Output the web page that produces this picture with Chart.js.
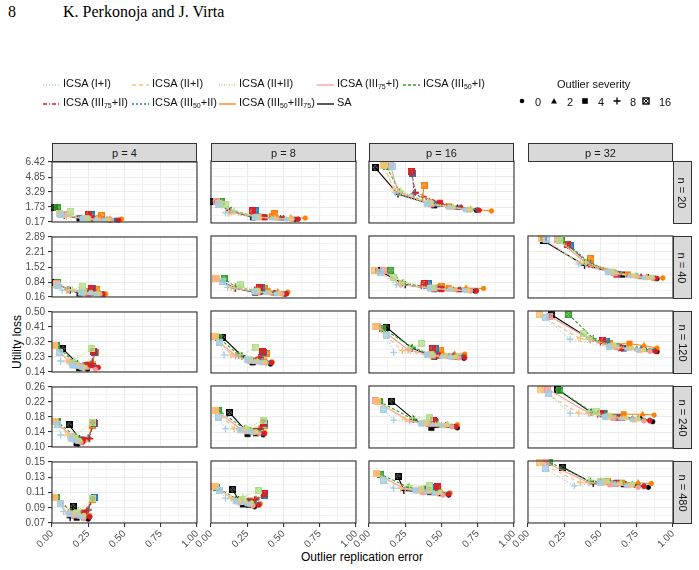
<!DOCTYPE html>
<html>
<head>
<meta charset="utf-8">
<script src="https://cdn.jsdelivr.net/npm/chart.js@4.4.1/dist/chart.umd.min.js"></script>
<style>
  body { margin: 0; background: #fff; font-family: "Liberation Sans", Arial, sans-serif; }
  #page { position: relative; width: 699px; height: 570px; overflow: hidden; }
  .abs { position: absolute; white-space: nowrap; }
  .strip { position: absolute; background: #d9d9d9; border: 1px solid #333; box-sizing: border-box;
           font-size: 11px; color: #1a1a1a; display: flex; align-items: center; justify-content: center; }
  .vtext { transform: rotate(90deg); white-space: nowrap; }
  .leg { font-size: 11px; color: #111; line-height: 12px; }
  .leg sub { font-size: 7px; vertical-align: -2px; }
  canvas { position: absolute; }
</style>
</head>
<body>
<div id="page">
  <div class="abs" style="left:8px;top:3px;font-family:'Liberation Serif',serif;font-size:16px;">8</div>
  <div class="abs" style="left:63px;top:3px;font-family:'Liberation Serif',serif;font-size:16px;">K. Perkonoja and J. Virta</div>
  <div class="abs" style="left:4px;top:342px;width:0;height:0;">
    <div style="position:absolute;transform:translate(-50%,-50%) rotate(-90deg);font-size:12px;white-space:nowrap;left:13px;">Utility loss</div>
  </div>
  <div class="abs" style="left:0;width:724px;top:550px;text-align:center;font-size:12px;">Outlier replication error</div>
</div>
<script>
// ---- data: rows of each array = methods (same order as methodNames), columns = severities
const severities = [0, 2, 4, 8, 16];
const methodNames = ['ICSA (I+I)', 'ICSA (II+I)', 'ICSA (II+II)', 'ICSA (III75+I)', 'ICSA (III50+I)',
                     'ICSA (III75+II)', 'ICSA (III50+II)', 'ICSA (III50+III75)', 'SA'];
const pLevels = [4, 8, 16, 32];
const nLevels = [20, 40, 120, 240, 480];
const errTicks = [0, 0.25, 0.5, 0.75, 1];
const lossTicksN20 = [0.17, 1.73, 3.29, 4.85, 6.42];
const lossTicksN40 = [0.16, 0.84, 1.52, 2.21, 2.89];
const lossTicksN120 = [0.14, 0.23, 0.32, 0.41, 0.50];
const lossTicksN240 = [0.10, 0.14, 0.18, 0.22, 0.26];
const lossTicksN480 = [0.07, 0.09, 0.11, 0.13, 0.15];

const errN20P4 = [[0.36,0.30,0.21,0.08,0.06],[0.38,0.31,0.22,0.10,0.05],[0.39,0.31,0.24,0.13,0.13],[0.41,0.33,0.25,0.10,0.08],[0.38,0.30,0.23,0.08,0.035],[0.46,0.38,0.27,0.24,0.25],[0.44,0.36,0.27,0.26,0.27],[0.48,0.40,0.32,0.33,0.34],[0.40,0.30,0.19,0.085,0.014]];
const lossN20P4 = [[0.37,0.42,0.50,0.80,1.00],[0.38,0.43,0.52,0.75,1.10],[0.40,0.46,0.56,0.95,1.31],[0.37,0.42,0.50,0.85,1.00],[0.40,0.45,0.50,0.90,1.71],[0.37,0.42,0.54,0.70,0.98],[0.37,0.42,0.50,0.70,0.90],[0.47,0.50,0.56,0.70,0.88],[0.37,0.45,0.54,0.87,1.71]];
const errN20P8 = [[0.52,0.42,0.30,0.10,0.05],[0.55,0.44,0.31,0.12,0.05],[0.55,0.44,0.32,0.16,0.10],[0.56,0.46,0.33,0.14,0.04],[0.56,0.46,0.32,0.14,0.075],[0.60,0.50,0.37,0.30,0.285],[0.60,0.50,0.36,0.32,0.31],[0.65,0.55,0.42,0.44,0.44],[0.58,0.48,0.29,0.13,0.02]];
const lossN20P8 = [[0.55,0.62,0.75,1.20,2.00],[0.55,0.63,0.76,1.15,2.10],[0.58,0.66,0.80,1.40,2.00],[0.54,0.62,0.75,1.30,2.30],[0.56,0.64,0.78,1.45,2.35],[0.55,0.64,0.74,1.00,1.38],[0.56,0.65,0.78,1.05,1.38],[0.67,0.70,0.85,0.95,1.08],[0.54,0.64,0.74,1.41,2.36]];
const errN20P16 = [[0.66,0.55,0.40,0.18,0.16],[0.68,0.56,0.40,0.17,0.10],[0.70,0.58,0.42,0.22,0.11],[0.70,0.58,0.43,0.20,0.145],[0.68,0.57,0.42,0.21,0.12],[0.76,0.64,0.49,0.32,0.29],[0.75,0.63,0.47,0.31,0.30],[0.845,0.70,0.55,0.37,0.38],[0.74,0.61,0.45,0.20,0.042]];
const lossN20P16 = [[1.50,1.75,2.10,3.20,5.90],[1.52,1.78,2.15,3.60,6.00],[1.55,1.80,2.20,3.40,6.20],[1.48,1.72,2.05,3.30,6.10],[1.50,1.76,2.15,3.30,5.90],[1.45,1.72,2.20,3.26,5.34],[1.50,1.75,2.10,3.10,5.20],[1.38,1.60,1.85,2.80,3.93],[1.45,1.71,1.95,3.09,5.75]];

const errN40P4 = [[0.30,0.26,0.20,0.07,0.04],[0.31,0.26,0.20,0.10,0.03],[0.32,0.27,0.22,0.14,0.21],[0.33,0.28,0.22,0.12,0.03],[0.33,0.28,0.21,0.11,0.04],[0.35,0.30,0.25,0.24,0.27],[0.35,0.30,0.26,0.25,0.28],[0.37,0.33,0.29,0.29,0.31],[0.36,0.30,0.19,0.125,0.021]];
const lossN40P4 = [[0.30,0.33,0.36,0.47,0.70],[0.30,0.33,0.38,0.45,0.75],[0.31,0.35,0.40,0.50,0.65],[0.29,0.32,0.36,0.48,0.78],[0.30,0.33,0.37,0.50,0.80],[0.29,0.31,0.32,0.40,0.56],[0.30,0.32,0.35,0.42,0.55],[0.30,0.33,0.38,0.44,0.50],[0.29,0.31,0.32,0.47,0.80]];
const errN40P8 = [[0.45,0.38,0.30,0.115,0.08],[0.47,0.39,0.31,0.14,0.04],[0.47,0.40,0.32,0.20,0.20],[0.49,0.41,0.32,0.16,0.03],[0.49,0.41,0.32,0.17,0.09],[0.52,0.44,0.33,0.30,0.335],[0.52,0.44,0.34,0.31,0.35],[0.53,0.46,0.39,0.36,0.37],[0.51,0.43,0.305,0.167,0.035]];
const lossN40P8 = [[0.34,0.38,0.44,0.63,0.90],[0.35,0.38,0.44,0.62,1.00],[0.36,0.40,0.48,0.70,0.77],[0.34,0.37,0.43,0.60,1.00],[0.35,0.38,0.45,0.65,1.02],[0.34,0.37,0.42,0.50,0.64],[0.35,0.38,0.44,0.52,0.62],[0.42,0.44,0.47,0.52,0.58],[0.33,0.36,0.40,0.59,1.02]];
const errN40P16 = [[0.66,0.55,0.42,0.19,0.08],[0.68,0.56,0.42,0.21,0.04],[0.68,0.57,0.44,0.24,0.17],[0.70,0.59,0.45,0.22,0.10],[0.70,0.58,0.44,0.23,0.15],[0.74,0.62,0.50,0.36,0.38],[0.74,0.63,0.49,0.38,0.41],[0.79,0.67,0.55,0.47,0.50],[0.73,0.62,0.45,0.25,0.065]];
const lossN40P16 = [[0.48,0.52,0.58,0.74,1.30],[0.48,0.52,0.60,0.78,1.38],[0.50,0.55,0.62,0.85,1.07],[0.47,0.51,0.57,0.76,1.38],[0.48,0.53,0.60,0.82,1.38],[0.47,0.51,0.55,0.70,0.80],[0.48,0.52,0.57,0.70,0.78],[0.58,0.60,0.60,0.62,0.65],[0.47,0.50,0.55,0.74,1.38]];
const errN40P32 = [[0.80,0.70,0.55,0.35,0.13],[0.82,0.72,0.56,0.36,0.095],[0.85,0.74,0.58,0.40,0.22],[0.86,0.76,0.60,0.40,0.20],[0.86,0.75,0.59,0.41,0.23],[0.88,0.78,0.61,0.42,0.27],[0.88,0.78,0.62,0.43,0.29],[0.93,0.82,0.69,0.45,0.43],[0.89,0.83,0.65,0.39,0.107]];
const lossN40P32 = [[1.05,1.12,1.30,1.65,2.75],[1.05,1.12,1.30,1.70,2.80],[1.08,1.15,1.32,1.75,2.70],[1.03,1.10,1.25,1.70,2.75],[1.04,1.12,1.28,1.75,2.70],[1.02,1.08,1.19,1.65,2.53],[1.03,1.10,1.22,1.68,2.45],[1.04,1.10,1.20,1.60,1.89],[1.01,1.07,1.19,1.60,2.68]];

const errN120P4 = [[0.20,0.17,0.14,0.06,0.05],[0.21,0.18,0.15,0.11,0.014],[0.22,0.19,0.17,0.15,0.27],[0.30,0.24,0.20,0.12,0.02],[0.23,0.20,0.17,0.15,0.03],[0.32,0.28,0.24,0.28,0.287],[0.30,0.27,0.23,0.27,0.29],[0.29,0.27,0.25,0.28,0.30],[0.245,0.22,0.187,0.176,0.074]];
const lossN120P4 = [[0.165,0.170,0.18,0.206,0.26],[0.165,0.172,0.18,0.206,0.298],[0.17,0.175,0.185,0.21,0.28],[0.155,0.165,0.175,0.20,0.298],[0.165,0.17,0.18,0.20,0.30],[0.167,0.175,0.18,0.19,0.264],[0.17,0.175,0.18,0.19,0.26],[0.175,0.18,0.185,0.20,0.26],[0.157,0.162,0.163,0.19,0.279]];
const errN120P8 = [[0.34,0.30,0.25,0.09,0.06],[0.36,0.31,0.26,0.14,0.03],[0.37,0.32,0.27,0.20,0.31],[0.38,0.33,0.27,0.17,0.016],[0.38,0.33,0.27,0.19,0.05],[0.42,0.37,0.31,0.33,0.356],[0.41,0.36,0.31,0.34,0.36],[0.42,0.38,0.33,0.36,0.38],[0.41,0.36,0.287,0.213,0.081]];
const lossN120P8 = [[0.20,0.205,0.215,0.245,0.32],[0.20,0.205,0.215,0.245,0.35],[0.205,0.21,0.22,0.245,0.287],[0.198,0.203,0.21,0.24,0.35],[0.20,0.205,0.215,0.245,0.347],[0.20,0.205,0.21,0.23,0.264],[0.20,0.205,0.21,0.23,0.26],[0.205,0.21,0.215,0.235,0.255],[0.192,0.20,0.202,0.239,0.347]];
const errN120P16 = [[0.56,0.50,0.40,0.17,0.12],[0.58,0.51,0.41,0.23,0.042],[0.60,0.53,0.43,0.28,0.36],[0.62,0.55,0.44,0.27,0.06],[0.62,0.55,0.44,0.30,0.09],[0.66,0.59,0.48,0.42,0.44],[0.65,0.58,0.47,0.43,0.46],[0.66,0.59,0.50,0.46,0.49],[0.655,0.586,0.45,0.296,0.118]];
const lossN120P16 = [[0.23,0.235,0.245,0.26,0.36],[0.23,0.235,0.245,0.27,0.41],[0.235,0.24,0.25,0.285,0.312],[0.228,0.233,0.24,0.275,0.41],[0.23,0.235,0.245,0.29,0.40],[0.23,0.235,0.24,0.26,0.283],[0.235,0.24,0.245,0.26,0.28],[0.25,0.25,0.25,0.26,0.27],[0.225,0.229,0.235,0.283,0.407]];
const errN120P32 = [[0.76,0.68,0.56,0.29,0.12],[0.78,0.70,0.57,0.36,0.076],[0.80,0.72,0.59,0.42,0.38],[0.84,0.75,0.61,0.43,0.15],[0.84,0.75,0.61,0.45,0.28],[0.88,0.79,0.64,0.50,0.516],[0.87,0.78,0.63,0.52,0.54],[0.89,0.80,0.70,0.57,0.56],[0.89,0.81,0.66,0.43,0.165]];
const lossN120P32 = [[0.27,0.28,0.29,0.336,0.46],[0.27,0.28,0.295,0.34,0.477],[0.275,0.285,0.30,0.34,0.37],[0.265,0.275,0.29,0.335,0.47],[0.27,0.28,0.295,0.34,0.48],[0.265,0.275,0.285,0.32,0.33],[0.27,0.28,0.29,0.32,0.325],[0.285,0.30,0.31,0.31,0.31],[0.264,0.275,0.283,0.336,0.477]];

const errN240P4 = [[0.17,0.15,0.13,0.06,0.04],[0.18,0.16,0.14,0.11,0.02],[0.19,0.17,0.16,0.15,0.28],[0.20,0.18,0.16,0.14,0.021],[0.20,0.18,0.17,0.16,0.035],[0.21,0.20,0.21,0.26,0.283],[0.20,0.19,0.20,0.25,0.29],[0.21,0.21,0.22,0.25,0.28],[0.18,0.17,0.17,0.19,0.118]];
const lossN240P4 = [[0.115,0.118,0.122,0.132,0.16],[0.115,0.118,0.122,0.132,0.168],[0.118,0.12,0.125,0.13,0.165],[0.112,0.115,0.12,0.128,0.168],[0.114,0.117,0.122,0.128,0.168],[0.112,0.115,0.118,0.122,0.165],[0.113,0.116,0.12,0.124,0.162],[0.116,0.118,0.12,0.124,0.158],[0.108,0.109,0.11,0.122,0.159]];
const errN240P8 = [[0.28,0.25,0.20,0.10,0.05],[0.30,0.26,0.22,0.16,0.03],[0.31,0.28,0.25,0.24,0.36],[0.33,0.29,0.25,0.21,0.028],[0.33,0.29,0.26,0.23,0.05],[0.37,0.33,0.30,0.34,0.36],[0.36,0.33,0.30,0.34,0.37],[0.37,0.34,0.31,0.33,0.37],[0.36,0.31,0.252,0.236,0.127]];
const lossN240P8 = [[0.14,0.142,0.146,0.15,0.18],[0.14,0.142,0.146,0.15,0.198],[0.142,0.145,0.148,0.152,0.17],[0.138,0.14,0.143,0.148,0.198],[0.14,0.142,0.146,0.15,0.198],[0.137,0.14,0.142,0.148,0.165],[0.138,0.14,0.143,0.15,0.162],[0.14,0.142,0.145,0.15,0.158],[0.134,0.135,0.136,0.146,0.192]];
const errN240P16 = [[0.50,0.44,0.36,0.17,0.10],[0.52,0.46,0.37,0.25,0.06],[0.54,0.48,0.39,0.30,0.42],[0.57,0.50,0.41,0.28,0.042],[0.57,0.50,0.41,0.30,0.07],[0.60,0.53,0.44,0.40,0.447],[0.60,0.53,0.44,0.41,0.45],[0.61,0.54,0.45,0.43,0.46],[0.61,0.545,0.43,0.308,0.157]];
const lossN240P16 = [[0.158,0.16,0.163,0.172,0.20],[0.158,0.16,0.164,0.174,0.22],[0.16,0.162,0.166,0.178,0.178],[0.155,0.158,0.162,0.17,0.222],[0.156,0.158,0.163,0.175,0.22],[0.155,0.158,0.162,0.165,0.17],[0.156,0.159,0.163,0.166,0.168],[0.16,0.16,0.162,0.164,0.166],[0.152,0.157,0.152,0.174,0.221]];
const errN240P32 = [[0.72,0.64,0.53,0.29,0.14],[0.74,0.66,0.54,0.35,0.083],[0.76,0.68,0.56,0.42,0.47],[0.80,0.72,0.59,0.42,0.137],[0.80,0.72,0.59,0.44,0.22],[0.84,0.76,0.62,0.48,0.50],[0.84,0.76,0.62,0.50,0.52],[0.87,0.79,0.66,0.52,0.53],[0.86,0.78,0.646,0.435,0.204]];
const lossN240P32 = [[0.172,0.176,0.18,0.19,0.24],[0.172,0.176,0.18,0.19,0.25],[0.175,0.178,0.183,0.195,0.195],[0.17,0.174,0.178,0.19,0.252],[0.172,0.176,0.18,0.193,0.248],[0.17,0.175,0.178,0.187,0.19],[0.172,0.176,0.18,0.188,0.19],[0.185,0.187,0.187,0.187,0.188],[0.168,0.176,0.178,0.192,0.251]];

const errN480P4 = [[0.20,0.17,0.12,0.08,0.06],[0.21,0.18,0.14,0.12,0.02],[0.22,0.19,0.17,0.18,0.28],[0.22,0.19,0.15,0.11,0.014],[0.22,0.19,0.16,0.13,0.03],[0.26,0.23,0.21,0.24,0.28],[0.26,0.23,0.21,0.25,0.29],[0.26,0.24,0.22,0.25,0.28],[0.25,0.22,0.17,0.125,0.146]];
const lossN480P4 = [[0.078,0.08,0.082,0.085,0.095],[0.078,0.08,0.082,0.085,0.104],[0.08,0.082,0.084,0.086,0.102],[0.076,0.078,0.08,0.082,0.104],[0.077,0.079,0.082,0.085,0.104],[0.078,0.08,0.082,0.086,0.102],[0.078,0.08,0.083,0.087,0.104],[0.08,0.082,0.084,0.088,0.101],[0.075,0.076,0.077,0.077,0.092]];
const errN480P8 = [[0.26,0.22,0.17,0.10,0.06],[0.27,0.23,0.19,0.14,0.03],[0.28,0.24,0.21,0.22,0.33],[0.29,0.25,0.20,0.16,0.02],[0.29,0.25,0.21,0.17,0.04],[0.33,0.29,0.26,0.30,0.37],[0.33,0.29,0.26,0.31,0.37],[0.34,0.30,0.27,0.31,0.37],[0.30,0.26,0.22,0.19,0.15]];
const lossN480P8 = [[0.094,0.096,0.098,0.102,0.112],[0.094,0.096,0.098,0.102,0.117],[0.096,0.098,0.10,0.104,0.112],[0.092,0.094,0.097,0.10,0.117],[0.093,0.095,0.098,0.102,0.116],[0.093,0.095,0.097,0.10,0.108],[0.094,0.096,0.098,0.10,0.106],[0.095,0.097,0.099,0.101,0.105],[0.091,0.092,0.094,0.10,0.113]];
const errN480P16 = [[0.45,0.40,0.32,0.17,0.10],[0.47,0.41,0.34,0.22,0.055],[0.49,0.43,0.36,0.28,0.42],[0.51,0.45,0.37,0.25,0.05],[0.51,0.45,0.37,0.27,0.08],[0.55,0.49,0.41,0.38,0.47],[0.55,0.49,0.41,0.39,0.46],[0.56,0.50,0.43,0.40,0.47],[0.55,0.49,0.42,0.24,0.20]];
const lossN480P16 = [[0.108,0.11,0.112,0.115,0.125],[0.108,0.11,0.112,0.115,0.134],[0.11,0.112,0.114,0.118,0.118],[0.106,0.108,0.11,0.114,0.134],[0.107,0.109,0.112,0.116,0.133],[0.107,0.109,0.111,0.114,0.117],[0.108,0.11,0.112,0.114,0.116],[0.109,0.11,0.112,0.114,0.115],[0.106,0.107,0.11,0.112,0.13]];
const errN480P32 = [[0.68,0.60,0.50,0.32,0.12],[0.70,0.62,0.52,0.36,0.08],[0.72,0.64,0.54,0.42,0.50],[0.76,0.68,0.57,0.42,0.12],[0.76,0.68,0.57,0.43,0.15],[0.80,0.72,0.61,0.49,0.52],[0.80,0.72,0.61,0.50,0.53],[0.85,0.76,0.65,0.52,0.55],[0.83,0.75,0.66,0.45,0.24]];
const lossN480P32 = [[0.118,0.12,0.122,0.118,0.14],[0.118,0.12,0.122,0.122,0.148],[0.12,0.122,0.124,0.126,0.124],[0.116,0.118,0.12,0.122,0.148],[0.117,0.119,0.121,0.124,0.148],[0.117,0.119,0.121,0.123,0.124],[0.118,0.12,0.122,0.124,0.124],[0.121,0.122,0.122,0.123,0.124],[0.116,0.118,0.12,0.121,0.142]];

// which arrays go in which facet (null = no panel)
const panelErr = [
  [errN20P4, errN20P8, errN20P16, null],
  [errN40P4, errN40P8, errN40P16, errN40P32],
  [errN120P4, errN120P8, errN120P16, errN120P32],
  [errN240P4, errN240P8, errN240P16, errN240P32],
  [errN480P4, errN480P8, errN480P16, errN480P32]
];
const panelLoss = [
  [lossN20P4, lossN20P8, lossN20P16, null],
  [lossN40P4, lossN40P8, lossN40P16, lossN40P32],
  [lossN120P4, lossN120P8, lossN120P16, lossN120P32],
  [lossN240P4, lossN240P8, lossN240P16, lossN240P32],
  [lossN480P4, lossN480P8, lossN480P16, lossN480P32]
];
const rowTicks = [lossTicksN20, lossTicksN40, lossTicksN120, lossTicksN240, lossTicksN480];

// ---- look
const methodColors = ['#a6cee3', '#fdbf6f', '#b2df8a', '#fb9a99', '#33a02c', '#e31a1c', '#1f78b4', '#ff7f00', '#000000'];
const methodDash = [[1, 2], [4, 3], [1, 1.5], [], [3, 2], [4, 2, 1, 2], [2, 2], [], []];
const colLeft = [52, 211, 369, 528];
const rowTop = [161, 236, 311, 386, 461];
const PW = 145, PH = 62;

Chart.defaults.font.family = '"Liberation Sans", Arial, sans-serif';

// square with a cross (severity 16 marker)
function boxCross(color) {
  const c = document.createElement('canvas');
  c.width = 7; c.height = 7;
  const g = c.getContext('2d');
  g.strokeStyle = color;
  g.lineWidth = 1.6;
  g.strokeRect(0.8, 0.8, 5.4, 5.4);
  g.lineWidth = 1.1;
  g.beginPath();
  g.moveTo(1, 1); g.lineTo(6, 6);
  g.moveTo(6, 1); g.lineTo(1, 6);
  g.stroke();
  return c;
}
const boxImgs = methodColors.map(boxCross);

// ggplot-style panel border on top
const borderPlugin = {
  id: 'panelBorder',
  afterDraw(chart) {
    const a = chart.chartArea, ctx = chart.ctx;
    ctx.save();
    ctx.strokeStyle = '#333333';
    ctx.lineWidth = 1.1;
    ctx.strokeRect(a.left, a.top, a.right - a.left, a.bottom - a.top);
    ctx.restore();
  }
};

function withMinor(ticks) {
  const out = [];
  ticks.forEach((t, i) => {
    out.push(t);
    if (i < ticks.length - 1) out.push((t + ticks[i + 1]) / 2);
  });
  return out;
}

const page = document.getElementById('page');

function makePanel(ri, ci) {
  const errs = panelErr[ri][ci], losses = panelLoss[ri][ci];
  if (!errs) return;
  const isLeft = ci === 0, isBottom = ri === nLevels.length - 1;
  const L = isLeft ? 52 : 30, PADT = 8, PADR = 10, PADB = 8, B = isBottom ? 30 : 0;
  const w = L + PW + PADR, h = PADT + PH + B + PADB;
  const canvas = document.createElement('canvas');
  canvas.width = w; canvas.height = h;
  canvas.style.width = w + 'px'; canvas.style.height = h + 'px';
  canvas.style.left = (colLeft[ci] - L) + 'px';
  canvas.style.top = (rowTop[ri] - PADT) + 'px';
  page.appendChild(canvas);

  const yTicks = rowTicks[ri];
  const yVals = withMinor(yTicks);
  const xVals = withMinor(errTicks);

  const datasets = methodNames.map((name, m) => ({
    label: name,
    data: severities.map((s, k) => ({ x: errs[m][k], y: losses[m][k] })),
    showLine: true,
    borderColor: methodColors[m],
    borderWidth: 1.1,
    borderDash: methodDash[m],
    backgroundColor: methodColors[m],
    pointBackgroundColor: methodColors[m],
    pointBorderColor: methodColors[m],
    pointStyle: ['circle', 'triangle', 'rect', 'cross', boxImgs[m]],
    pointRadius: [2.4, 3.2, 3.9, 3.5, 3.5],
    pointBorderWidth: [0.5, 0.5, 0.5, 1.3, 0.5],
    clip: 4
  }));

  new Chart(canvas, {
    type: 'scatter',
    data: { datasets },
    plugins: [borderPlugin],
    options: {
      responsive: false,
      animation: false,
      devicePixelRatio: 1,
      events: [],
      layout: { padding: { top: PADT, right: PADR, bottom: PADB, left: 0 } },
      plugins: { legend: { display: false }, tooltip: { enabled: false } },
      scales: {
        x: {
          type: 'linear', min: 0, max: 1,
          afterBuildTicks: s => { s.ticks = xVals.map(v => ({ value: v })); },
          afterFit: s => { s.height = B; },
          border: { display: false },
          grid: {
            color: '#ebebeb',
            lineWidth: c => (c.index % 2 === 0 ? 1.1 : 0.55),
            drawTicks: isBottom,
            tickLength: 4,
            tickColor: c => (c.index % 2 === 0 ? '#333333' : 'rgba(0,0,0,0)')
          },
          ticks: {
            display: isBottom,
            autoSkip: false,
            minRotation: 45, maxRotation: 45,
            padding: 1,
            color: '#4d4d4d',
            font: { size: 10 },
            callback: (v, i) => (i % 2 === 0 ? errTicks[i / 2].toFixed(2) : '')
          }
        },
        y: {
          type: 'linear', min: yTicks[0], max: yTicks[yTicks.length - 1],
          afterBuildTicks: s => { s.ticks = yVals.map(v => ({ value: v })); },
          afterFit: s => { s.width = L; },
          border: { display: false },
          grid: {
            color: '#ebebeb',
            lineWidth: c => (c.index % 2 === 0 ? 1.1 : 0.55),
            drawTicks: isLeft,
            tickLength: 4,
            tickColor: c => (c.index % 2 === 0 ? '#333333' : 'rgba(0,0,0,0)')
          },
          ticks: {
            display: isLeft,
            autoSkip: false,
            padding: 3,
            color: '#4d4d4d',
            font: { size: 10 },
            callback: (v, i) => (i % 2 === 0 ? yTicks[i / 2].toFixed(2) : '')
          }
        }
      }
    }
  });
}

nLevels.forEach((n, ri) => pLevels.forEach((p, ci) => makePanel(ri, ci)));

// facet strips
pLevels.forEach((p, ci) => {
  const d = document.createElement('div');
  d.className = 'strip';
  d.style.left = colLeft[ci] + 'px'; d.style.top = '143px';
  d.style.width = PW + 'px'; d.style.height = '19px';
  d.textContent = 'p = ' + p;
  page.appendChild(d);
});
nLevels.forEach((n, ri) => {
  const d = document.createElement('div');
  d.className = 'strip';
  d.style.left = '673px'; d.style.top = rowTop[ri] + 'px';
  d.style.width = '19px'; d.style.height = (PH + 1) + 'px';
  d.innerHTML = '<div class="vtext">n = ' + n + '</div>';
  page.appendChild(d);
});

// legends
function lineSample(color, dash) {
  return '<svg width="17" height="6" style="vertical-align:middle"><line x1="0" y1="3" x2="17" y2="3" stroke="' + color +
    '" stroke-width="1.3" stroke-dasharray="' + (dash.length ? dash.join(',') : 'none') + '"/></svg>';
}
function methodLabel(name) {
  return name.replace(/III(\d\d)/g, 'III<sub>$1</sub>');
}
const legendPos = [[63, 84], [152, 84], [239, 84], [337, 84], [423, 84], [63, 103], [152, 103], [239, 103], [337, 103]];
methodNames.forEach((name, m) => {
  const [x, y] = legendPos[m];
  const s = document.createElement('div');
  s.className = 'abs';
  s.style.left = (x - 20) + 'px'; s.style.top = (y - 3) + 'px';
  s.style.lineHeight = '6px';
  s.innerHTML = lineSample(methodColors[m], methodDash[m]);
  page.appendChild(s);
  const t = document.createElement('div');
  t.className = 'abs leg';
  t.style.left = x + 'px'; t.style.top = (y - 7) + 'px';
  t.innerHTML = methodLabel(name);
  page.appendChild(t);
});

const sevTitle = document.createElement('div');
sevTitle.className = 'abs leg';
sevTitle.style.left = '557px'; sevTitle.style.top = '78px';
sevTitle.textContent = 'Outlier severity';
page.appendChild(sevTitle);
const sevShapes = [
  '<circle cx="4" cy="4" r="2.3" fill="#000"/>',
  '<polygon points="4,1.2 7,6.4 1,6.4" fill="#000"/>',
  '<rect x="1.2" y="1.2" width="5.6" height="5.6" fill="#000"/>',
  '<path d="M4 0.5 V7.5 M0.5 4 H7.5" stroke="#000" stroke-width="1.3"/>',
  '<rect x="1" y="1" width="6" height="6" fill="none" stroke="#000" stroke-width="1.4"/><path d="M1.3 1.3 L6.7 6.7 M6.7 1.3 L1.3 6.7" stroke="#000" stroke-width="1"/>'
];
const sevX = [518, 550, 581, 613, 642];
severities.forEach((s, k) => {
  const d = document.createElement('div');
  d.className = 'abs';
  d.style.left = sevX[k] + 'px'; d.style.top = '97px';
  d.style.lineHeight = '8px';
  d.innerHTML = '<svg width="8" height="8" style="display:block">' + sevShapes[k] + '</svg>';
  page.appendChild(d);
  const t = document.createElement('div');
  t.className = 'abs leg';
  t.style.left = (sevX[k] + 17) + 'px'; t.style.top = '96px';
  t.textContent = String(s);
  page.appendChild(t);
});
</script>
</body>
</html>
